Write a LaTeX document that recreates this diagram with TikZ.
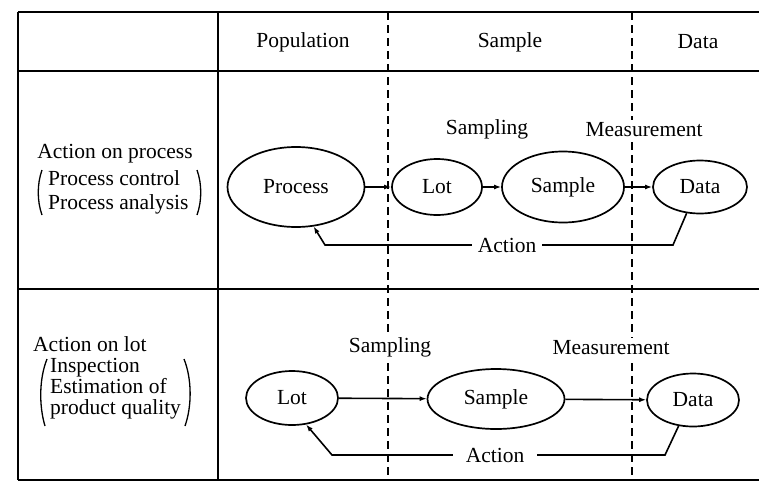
\documentclass[tikz,border=0pt]{standalone}
\usepackage{fontspec}
\setmainfont{Liberation Serif}
\usetikzlibrary{shapes.geometric,arrows.meta}
\begin{document}
\begin{tikzpicture}[x=1pt,y=-1pt,
  every node/.style={font=\fontsize{21.5}{24}\selectfont, inner sep=2pt},
  rule/.style={line width=1.5pt},
  dashrule/.style={line width=1.5pt, dash pattern=on 8pt off 5pt},
  oval/.style={ellipse, draw, line width=1.7pt, inner sep=0pt},
  flow/.style={line width=1.6pt, -{Latex[length=7pt,width=5pt]}},
  lbl/.style={fill=white, inner sep=3pt},
  bracket/.style={line width=1.3pt}]
\useasboundingbox (0,0) rectangle (759,482);
% table
\draw[rule] (18,12) -- (759,12);
\draw[rule] (18,71) -- (759,71);
\draw[rule] (18,289) -- (759,289);
\draw[rule] (18,480) -- (759,480);
\draw[rule] (18,12) -- (18,480);
\draw[rule] (218,12) -- (218,480);
\draw[dashrule] (388,12) -- (388,480);
\draw[dashrule] (632,12) -- (632,480);
% header
\node (hpop) at (303,42) {Population};
\node (hsam) at (510,42) {Sample};
\node (hdat) at (698,42) {Data};
% row 1 left text
\node (r1a) at (115,154) {Action on process};
\node[anchor=west, align=left, font=\fontsize{21.5}{24}\selectfont] (r1b) at (46,192.5) {Process control\\Process analysis};
\draw[bracket] (42,170) .. controls (37,184) and (37,201) .. (42,215);
\draw[bracket] (197,170) .. controls (202,184) and (202,201) .. (197,215);
% row 2 left text
\node[anchor=west] (r2a) at (31,344) {Action on lot};
\node[anchor=west, align=left, font=\fontsize{21.5}{21}\selectfont] (r2b) at (48,388.5) {Inspection\\Estimation of\\product quality};
\draw[bracket] (47,359) .. controls (39,379) and (39,406) .. (45,426);
\draw[bracket] (184,359) .. controls (192,379) and (192,406) .. (185,426);
% row 1 diagram
\node[oval, minimum width=137pt, minimum height=80pt] (p1) at (296,187) {Process};
\node[oval, minimum width=90pt, minimum height=56pt] (l1) at (437,187) {Lot};
\node[oval, minimum width=122pt, minimum height=71pt] (s1) at (563,187) {Sample};
\node[oval, minimum width=94pt, minimum height=53pt] (d1) at (700,187) {Data};
\node[lbl] (samp1) at (487,129) {Sampling};
\node[lbl] (meas1) at (644,130) {Measurement};
\draw[flow] (p1) -- (l1);
\draw[flow] (l1) -- (s1);
\draw[flow] (s1) -- (d1);
\coordinate (c1a) at (673,245);
\coordinate (c1b) at (325,245);
\draw[flow] (d1.243) -- (c1a) -- (c1b) -- (p1.294);
\node[lbl, inner xsep=6pt, inner ysep=1pt] (act1) at (507,245) {Action};
% row 2 diagram
\node[oval, minimum width=92pt, minimum height=54pt] (l2) at (292,398) {Lot};
\node[oval, minimum width=137pt, minimum height=60pt] (s2) at (496,399) {Sample};
\node[oval, minimum width=92pt, minimum height=53pt] (d2) at (693,400) {Data};
\node[lbl] (samp2) at (390,347) {Sampling};
\node[lbl] (meas2) at (611,348) {Measurement};
\draw[flow] (l2) -- (s2);
\draw[flow] (s2) -- (d2);
\coordinate (c2a) at (665,455);
\coordinate (c2b) at (332,455);
\draw[flow] (d2.241) -- (c2a) -- (c2b) -- (l2.298);
\node[lbl, inner xsep=13pt, inner ysep=1pt] (act2) at (495,455) {Action};
\end{tikzpicture}
\end{document}
